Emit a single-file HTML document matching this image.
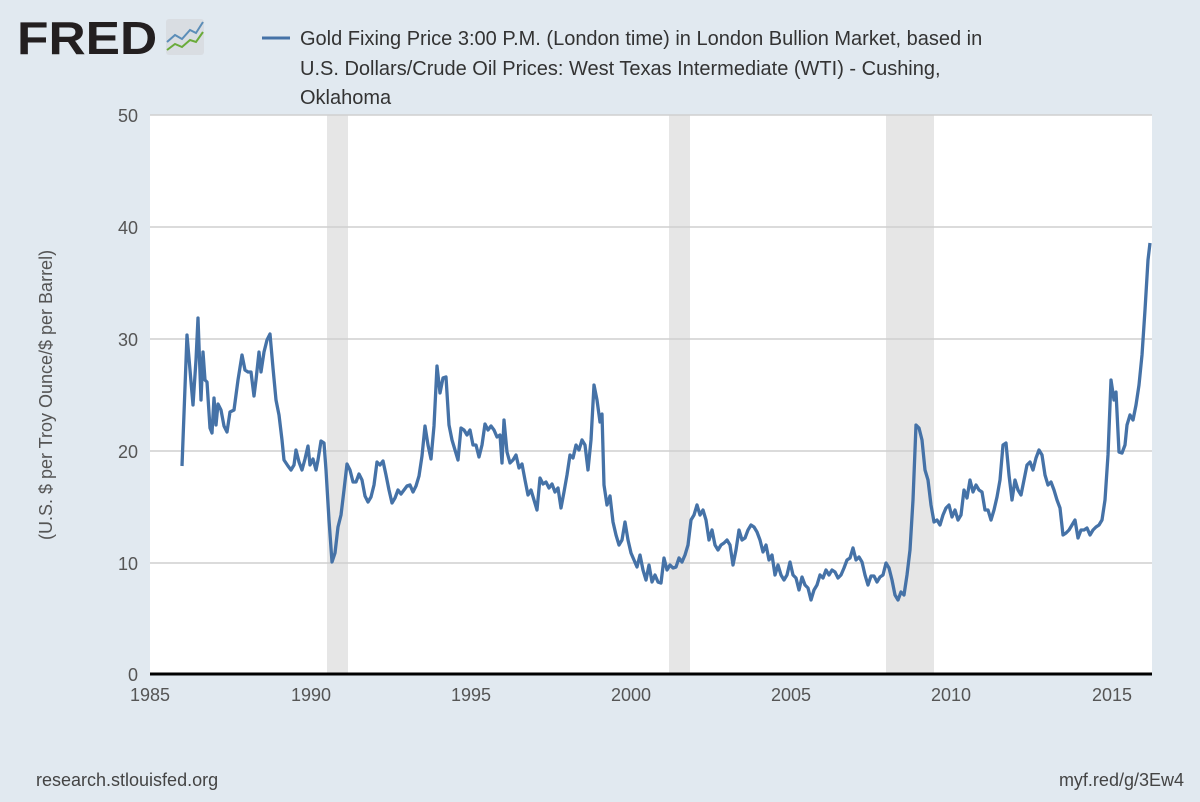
<!DOCTYPE html>
<html><head><meta charset="utf-8"><style>
body{margin:0;background:#e1e9f0;}
svg text{font-family:"Liberation Sans",sans-serif;}
</style></head><body>
<svg width="1200" height="797" xmlns="http://www.w3.org/2000/svg">
<rect width="1200" height="797" fill="#e1e9f0"/>
<text x="0" y="0" font-size="46" font-weight="bold" fill="#231f20" transform="translate(17,54) scale(1.12,1)">FRED</text>
<rect x="166" y="19" width="38" height="36" rx="3" fill="#d9dde2"/>
<polyline points="167,42 175,35 182,39 190,30 196,33 203,22" fill="none" stroke="#5b8db8" stroke-width="2"/>
<polyline points="167,50 175,44 182,47 190,40 196,42 203,32" fill="none" stroke="#6aab3a" stroke-width="2"/>
<line x1="262" y1="38" x2="290" y2="38" stroke="#4572a7" stroke-width="3"/>
<g font-size="20" fill="#333">
<text x="300" y="45">Gold Fixing Price 3:00 P.M. (London time) in London Bullion Market, based in</text>
<text x="300" y="75">U.S. Dollars/Crude Oil Prices: West Texas Intermediate (WTI) - Cushing,</text>
<text x="300" y="104">Oklahoma</text>
</g>
<rect x="150" y="115" width="1002" height="559" fill="#fff"/>
<g fill="#e6e6e6">
<rect x="327" y="115" width="21" height="559"/>
<rect x="669" y="115" width="21" height="559"/>
<rect x="886" y="115" width="48" height="559"/>
</g>
<g stroke="#cfcfcf" stroke-width="1.5">
<line x1="150" y1="115" x2="1152" y2="115"/>
<line x1="150" y1="227" x2="1152" y2="227"/>
<line x1="150" y1="339" x2="1152" y2="339"/>
<line x1="150" y1="451" x2="1152" y2="451"/>
<line x1="150" y1="563" x2="1152" y2="563"/>
</g>
<line x1="150" y1="674" x2="1152" y2="674" stroke="#000" stroke-width="3"/>
<g font-size="18" fill="#555" text-anchor="end">
<text x="138" y="122">50</text><text x="138" y="234">40</text><text x="138" y="346">30</text>
<text x="138" y="458">20</text><text x="138" y="570">10</text><text x="138" y="681">0</text>
</g>
<g font-size="18" fill="#555" text-anchor="middle">
<text x="150" y="701">1985</text><text x="311" y="701">1990</text><text x="471" y="701">1995</text>
<text x="631" y="701">2000</text><text x="791" y="701">2005</text><text x="951" y="701">2010</text><text x="1112" y="701">2015</text>
</g>
<text transform="translate(52,395) rotate(-90)" font-size="18" fill="#555" text-anchor="middle">(U.S. $ per Troy Ounce/$ per Barrel)</text>
<polyline fill="none" stroke="#4572a7" stroke-width="3.3" stroke-linejoin="round" points="182,466 187,335 190,370 193,405 196,360 198,318 201,400 203,352 205,380 207,382 210,428 212,433 214,398 216,425 218,404 221,410 224,426 227,432 230,412 234,410 238,380 242,355 245,370 248,372 251,372 254,396 256,380 259,352 261,372 264,352 267,340 270,334 273,368 276,400 279,415 282,440 284,460 288,466 291,470 294,465 296,450 299,462 302,470 305,459 308,446 310,465 313,459 316,470 318,460 321,441 324,443 326,470 329,520 332,562 335,553 338,527 341,515 344,490 347,464 350,470 353,482 356,482 359,474 362,480 365,496 368,502 371,497 374,485 377,462 380,465 383,461 386,475 389,490 392,503 395,498 398,490 401,494 404,490 407,486 410,485 413,492 416,486 419,476 422,456 425,426 428,445 431,459 434,426 437,366 440,393 443,378 446,377 449,425 452,440 455,450 458,460 461,428 464,430 467,435 470,430 473,445 476,445 479,457 482,445 485,424 488,430 491,426 494,430 497,437 500,435 502,463 504,420 507,452 510,463 513,460 516,455 519,468 522,464 525,480 528,495 531,490 534,500 537,510 540,478 543,484 546,482 549,488 552,484 555,492 558,488 561,508 564,492 567,475 570,455 573,458 576,445 579,450 582,440 585,445 588,470 591,440 594,385 597,400 600,422 602,414 604,485 607,505 610,496 613,522 616,535 619,545 622,540 625,522 628,540 631,553 634,560 637,567 640,555 643,570 646,580 649,565 652,582 655,575 658,582 661,583 664,558 667,570 670,565 673,568 676,567 679,558 682,562 685,555 688,545 691,520 694,515 697,505 700,515 703,510 706,520 709,540 712,530 715,545 718,550 721,545 724,543 727,540 730,545 733,565 736,550 739,530 742,540 745,538 748,530 751,525 754,527 757,532 760,540 763,552 766,545 769,560 772,555 775,575 778,565 781,575 784,580 787,575 790,562 793,575 796,578 799,590 802,577 805,585 808,588 811,600 814,590 817,585 820,575 823,578 826,570 829,575 832,570 835,572 838,578 841,575 844,568 847,560 850,558 853,548 856,560 859,557 862,562 865,575 868,585 871,576 874,576 877,582 880,577 883,575 886,563 889,568 892,580 895,595 898,600 901,592 904,595 907,575 910,550 913,500 916,425 919,428 922,440 925,470 928,480 931,505 934,522 937,520 940,525 943,515 946,508 949,505 952,517 955,510 958,520 961,515 964,490 967,498 970,480 973,492 976,485 979,490 982,492 985,510 988,510 991,520 994,510 997,497 1000,480 1003,445 1006,443 1009,475 1012,500 1015,480 1018,490 1021,495 1024,480 1027,465 1030,462 1033,470 1036,458 1039,450 1042,455 1045,475 1048,485 1051,482 1054,490 1057,500 1060,508 1063,535 1066,533 1069,530 1072,525 1075,520 1078,538 1081,530 1084,530 1087,528 1090,535 1093,530 1096,527 1099,525 1102,520 1105,500 1108,455 1111,380 1114,400 1116,392 1119,452 1122,453 1125,445 1127,425 1130,415 1133,420 1136,405 1139,385 1142,355 1145,310 1148,260 1150,243"/>
<text x="36" y="786" font-size="18" fill="#444">research.stlouisfed.org</text>
<text x="1184" y="786" font-size="18" fill="#444" text-anchor="end">myf.red/g/3Ew4</text>
</svg>
</body></html>
